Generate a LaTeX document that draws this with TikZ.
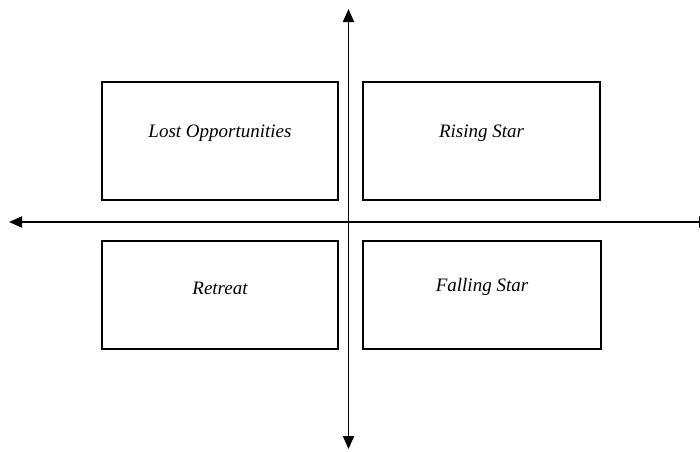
\documentclass[tikz,border=0pt]{standalone}
\usepackage{fontspec}
\setmainfont{Liberation Serif}
\usetikzlibrary{arrows.meta}
\begin{document}
\begin{tikzpicture}[x=1pt,y=-1pt,
  quad/.style={draw=black,line width=2pt,minimum width=236pt,minimum height=118pt,inner sep=0pt,anchor=north west},
  lbl/.style={font=\itshape\fontsize{19}{22}\selectfont},
  axis/.style={line width=1.9pt,{Triangle[length=13pt,width=11pt]}-{Triangle[length=13pt,width=11pt]}}]
\useasboundingbox[fill=white] (0,0) rectangle (700,451);
\node[quad] (lo) at (101,81) {};
\node[quad,minimum width=237pt] (rs) at (362,81) {};
\node[quad,minimum height=108pt] (re) at (101,240) {};
\node[quad,minimum width=238pt,minimum height=108pt] (fs) at (362,240) {};
\node[lbl] (tlo) at ([yshift=8pt]lo.center) {Lost Opportunities};
\node[lbl] (trs) at ([yshift=8pt]rs.center) {Rising Star};
\node[lbl] (tre) at ([yshift=7pt]re.center) {Retreat};
\node[lbl] (tfs) at ([yshift=8pt]fs.center) {Falling Star};
\coordinate (l) at (9,222);
\coordinate (r) at (712,222);
\coordinate (t) at (348.5,9);
\coordinate (b) at (348.5,449);
\draw[axis] (l) -- (r);
\draw[axis] (t) -- (b);
\end{tikzpicture}
\end{document}
